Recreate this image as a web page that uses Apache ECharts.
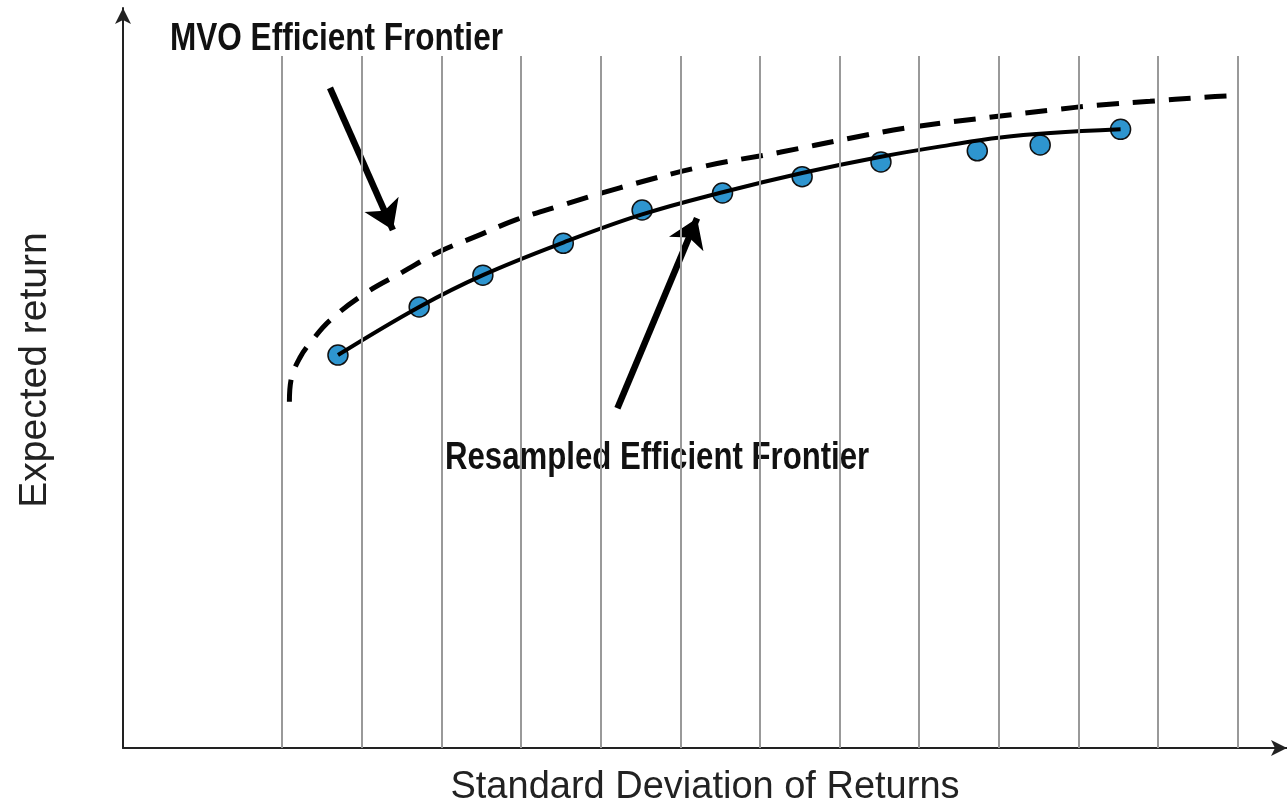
<!DOCTYPE html>
<html lang="en">

<head>
  <meta charset="UTF-8">
  <title>Efficient Frontier</title>
  <script src="https://cdn.jsdelivr.net/npm/echarts@6/dist/echarts.min.js"></script>
  <style>
    html, body { margin: 0; padding: 0; background: #fff; }
  </style>
</head>

<body>
  <div id="main" style="width: 1287px;height:808px;"></div>
  <script>
    var myChart = echarts.init(document.getElementById('main'));

    // resampled frontier: the blue dots
    var dotX = [2.70, 3.72, 4.52, 5.53, 6.52, 7.53, 8.53, 9.52, 10.73, 11.52, 12.53];
    var dotY = [5.31, 5.96, 6.39, 6.82, 7.27, 7.50, 7.72, 7.92, 8.07, 8.15, 8.36];

    // resampled frontier: the solid curve
    var resX = [2.70, 3.72, 4.52, 5.53, 6.52, 7.53, 8.53, 9.52, 10.39, 11.02, 11.65, 12.53];
    var resY = [5.31, 5.96, 6.39, 6.83, 7.21, 7.51, 7.77, 7.99, 8.15, 8.25, 8.31, 8.36];

    // MVO frontier: the dashed curve
    var mvoX = [2.09, 2.11, 2.22, 2.37, 2.60, 3.05, 3.51, 3.96, 4.45, 4.94, 5.44, 6.24, 7.25, 8.25, 9.13, 9.91, 11.02, 11.65, 12.27, 12.90, 13.53, 13.86];
    var mvoY = [4.68, 4.97, 5.27, 5.50, 5.78, 6.15, 6.43, 6.70, 6.92, 7.14, 7.31, 7.57, 7.85, 8.05, 8.24, 8.39, 8.54, 8.62, 8.69, 8.74, 8.79, 8.81];

    // vertical grid lines
    var gridX = [2, 3, 4, 5, 6, 7, 8, 9, 10, 11, 12, 13, 14];
    var gridTop = 9.35;

    // annotation arrows [from, to]
    var arrowMvo = [[2.60, 8.92], [3.39, 7.00]];
    var arrowRes = [[6.21, 4.59], [7.21, 7.16]];

    function pairs(xs, ys) {
      return xs.map(function (x, i) { return [x, ys[i]]; });
    }

    option = {
      animation: false,
      grid: { left: 123, right: 0, top: 8, bottom: 60, outerBoundsMode: 'none', containLabel: false },
      xAxis: {
        type: 'value',
        min: 0,
        max: 14.62,
        name: 'Standard Deviation of Returns',
        nameLocation: 'middle',
        nameGap: 21,
        nameTextStyle: {
          fontFamily: 'Liberation Sans',
          fontSize: 38,
          color: '#222',
          verticalAlign: 'top'
        },
        axisLine: {
          lineStyle: { color: '#222', width: 2 },
          symbol: ['none', 'arrow'],
          symbolSize: [12, 16]
        },
        axisTick: { show: false },
        axisLabel: { show: false },
        splitLine: { show: false }
      },
      yAxis: {
        type: 'value',
        min: 0,
        max: 10,
        name: 'Expected return',
        nameLocation: 'middle',
        nameGap: 68,
        nameTextStyle: {
          fontFamily: 'Liberation Sans',
          fontSize: 39,
          color: '#222',
          padding: [0, 0, 0, 16]
        },
        axisLine: {
          show: true,
          lineStyle: { color: '#222', width: 2 },
          symbol: ['none', 'arrow'],
          symbolSize: [12, 16]
        },
        axisTick: { show: false },
        axisLabel: { show: false },
        splitLine: { show: false }
      },
      graphic: [
        {
          type: 'text',
          x: 170,
          y: 40,
          scaleX: 0.83,
          style: {
            text: 'MVO Efficient Frontier',
            fontFamily: 'Liberation Sans',
            fontWeight: 'bold',
            fontSize: 38,
            fill: '#111',
            verticalAlign: 'middle'
          }
        },
        {
          type: 'text',
          x: 445,
          y: 459,
          scaleX: 0.82,
          style: {
            text: 'Resampled Efficient Frontier',
            fontFamily: 'Liberation Sans',
            fontWeight: 'bold',
            fontSize: 38,
            fill: '#111',
            verticalAlign: 'middle'
          }
        }
      ],
      series: [
        {
          // grid lines
          type: 'scatter',
          data: [],
          silent: true,
          markLine: {
            silent: true,
            symbol: ['none', 'none'],
            label: { show: false },
            lineStyle: { color: '#999', width: 2, type: 'solid' },
            data: gridX.map(function (x) {
              return [{ coord: [x, 0] }, { coord: [x, gridTop] }];
            })
          }
        },
        {
          name: 'MVO',
          type: 'line',
          data: pairs(mvoX, mvoY),
          smooth: 0.4,
          showSymbol: false,
          lineStyle: { color: '#000', width: 5, type: [22, 14] }
        },
        {
          name: 'Resampled',
          type: 'line',
          data: pairs(resX, resY),
          smooth: 0.4,
          showSymbol: false,
          lineStyle: { color: '#000', width: 4 }
        },
        {
          name: 'Dots',
          type: 'scatter',
          data: pairs(dotX, dotY),
          symbolSize: 20,
          itemStyle: { color: '#2e95cf', borderColor: '#111', borderWidth: 1.5, opacity: 1 }
        },
        {
          // annotation arrows
          type: 'lines',
          coordinateSystem: 'cartesian2d',
          silent: true,
          symbol: ['none', 'arrow'],
          symbolSize: 28,
          lineStyle: { color: '#000', width: 6.5, opacity: 1 },
          data: [{ coords: arrowMvo }, { coords: arrowRes }]
        }
      ]
    };

    myChart.setOption(option);
  </script>
</body>

</html>
